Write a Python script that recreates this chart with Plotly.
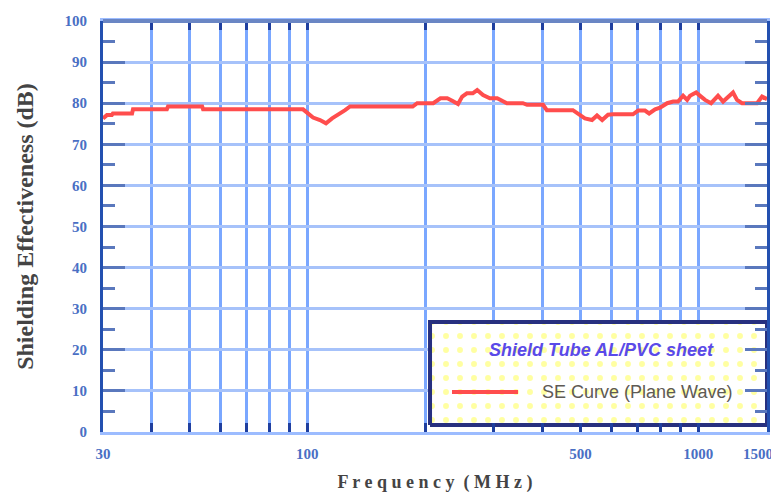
import plotly.graph_objects as go

# ---- data ----
freq_mhz = [30, 30.7, 31.6, 31.8, 35.6, 35.8, 43.7, 44.0, 53.8, 54.1, 97.5, 100.4, 103.4,
            107.7, 111.6, 115.7, 119.8, 124.9, 128.6, 186, 191, 210, 219, 228, 236, 243,
            249, 256, 265, 272, 281.5, 293, 306, 315, 324, 356, 365, 401, 410, 478, 493,
            513, 535, 551, 568, 588, 606, 681, 702, 731, 749, 776, 799, 833, 863, 888,
            915, 937, 953, 988, 1017, 1041, 1079, 1124, 1158, 1193, 1228, 1257, 1295,
            1415, 1457, 1500]
se_db = [76.3, 77.1, 77.1, 77.5, 77.5, 78.5, 78.5, 79.2, 79.2, 78.5, 78.5, 77.5, 76.5,
         75.9, 75.1, 76.3, 77.1, 78.3, 79.2, 79.2, 80.0, 80.0, 81.2, 81.2, 80.5, 79.8,
         81.6, 82.4, 82.4, 83.2, 82.0, 81.2, 81.2, 80.5, 80.0, 80.0, 79.6, 79.6, 78.3,
         78.3, 77.5, 76.3, 75.9, 77.0, 75.9, 77.2, 77.3, 77.3, 78.2, 78.2, 77.5, 78.5,
         78.9, 80.0, 80.4, 80.4, 81.8, 80.8, 81.8, 82.6, 81.6, 80.8, 80.0, 81.8, 80.4,
         81.6, 82.6, 80.8, 80.0, 80.0, 81.6, 81.0]

x_tick_vals = [30, 100, 500, 1000, 1500]
x_tick_text = ["30", "100", "500", "1000", ""]
x_last_label = "1500"   # drawn right-aligned at the axis end so it stays inside the page
x_minor_vals = [40, 50, 60, 70, 80, 90, 200, 300, 400, 600, 700, 800, 900]
y_tick_vals = [0, 10, 20, 30, 40, 50, 60, 70, 80, 90, 100]

series_name = "SE Curve (Plane Wave)"
legend_title = "Shield Tube AL/PVC sheet"
x_title = "F r e q u e n c y  ( M H z )"
y_title = "Shielding Effectiveness (dB)"

# ---- colours / styles ----
RED = "#ff4d4d"
VGRID = "#7aa7ff"
HGRID = "#a6c2fa"
DARK = "#2350b0"
TICKC = "#5a78bd"
LBL = "#4a6fc4"
TICKFONT = dict(family="Liberation Serif", size=15, color=LBL, weight="bold")

fig = go.Figure()

fig.add_trace(go.Scatter(
    x=freq_mhz, y=se_db, mode="lines", name=series_name,
    line=dict(color=RED, width=4), showlegend=False,
))

# legend box (drawn on an overlay axis pair spanning the plot area)
fig.add_trace(go.Scatter(
    x=[0.4925, 1.0, 1.0, 0.4925, 0.4925],
    y=[0.017, 0.017, 0.2676, 0.2676, 0.017],
    xaxis="x2", yaxis="y2", mode="lines", fill="toself",
    fillcolor="white",
    fillpattern=dict(shape=".", fgcolor="#ffff44", bgcolor="white", size=14, solidity=0.14),
    line=dict(color="#27307f", width=4), cliponaxis=False,
    showlegend=False, hoverinfo="skip",
))
# legend sample line
fig.add_trace(go.Scatter(
    x=[0.5256, 0.625], y=[0.0973, 0.0973], xaxis="x2", yaxis="y2", mode="lines",
    line=dict(color=RED, width=4), showlegend=False, hoverinfo="skip",
))

fig.update_layout(
    width=771, height=485,
    margin=dict(l=95, r=12, t=13, b=61),
    paper_bgcolor="white", plot_bgcolor="white",
    showlegend=False,
    xaxis=dict(
        type="log", range=[1.4771, 3.1761], automargin=False,
        tickmode="array", tickvals=x_tick_vals, ticktext=x_tick_text,
        showgrid=True, gridcolor=VGRID, gridwidth=3,
        ticks="inside", ticklen=9, tickwidth=3, tickcolor="#1f3f9f",
        showline=True, linecolor="#9cbcff", linewidth=3, mirror="ticks",
        minor=dict(tickmode="array", tickvals=x_minor_vals, showgrid=True,
                   gridcolor=VGRID, gridwidth=3, ticks="inside", ticklen=9,
                   tickwidth=3, tickcolor="#1f3f9f"),
        tickfont=TICKFONT,
        ticklabelstandoff=6,
        title=dict(text=x_title, standoff=22,
                   font=dict(family="Liberation Serif", size=18, color="#444444", weight="bold")),
        zeroline=False,
    ),
    yaxis=dict(
        range=[0, 100], tickmode="array", tickvals=y_tick_vals, automargin=False,
        showgrid=True, gridcolor=HGRID, gridwidth=3,
        ticks="inside", ticklen=22, tickwidth=3, tickcolor=TICKC,
        showline=True, linecolor=DARK, linewidth=3, mirror="ticks",
        minor=dict(dtick=5, ticks="inside", ticklen=12, tickwidth=3, tickcolor=TICKC,
                   showgrid=False),
        tickfont=TICKFONT,
        ticklabelstandoff=10,
        title=dict(text=y_title, standoff=25,
                   font=dict(family="Liberation Serif", size=24, color="#444444", weight="bold")),
        zeroline=False,
    ),
    xaxis2=dict(overlaying="x", range=[0, 1], visible=False, fixedrange=True),
    yaxis2=dict(overlaying="y", range=[0, 1], visible=False, fixedrange=True),
    shapes=[
        dict(type="line", xref="paper", yref="paper", x0=0, x1=1, y0=1, y1=1,
             line=dict(color="#6a86c4", width=4), layer="above"),
    ],
    annotations=[
        dict(text=x_last_label, xref="paper", yref="paper", x=1, y=0,
             xanchor="right", yanchor="middle", xshift=8, yshift=-22,
             showarrow=False, font=TICKFONT),
        dict(text=legend_title, xref="paper", yref="paper", x=0.7515, y=0.1995,
             showarrow=False, xanchor="center", yanchor="middle",
             font=dict(family="Liberation Sans", size=18, color="#5a4ae8",
                       weight="bold", style="italic")),
        dict(text=series_name, xref="paper", yref="paper", x=0.658, y=0.0973,
             showarrow=False, xanchor="left", yanchor="middle",
             font=dict(family="Liberation Sans", size=18, color="#5e5a55")),
    ],
)

fig.write_html("out.html")
